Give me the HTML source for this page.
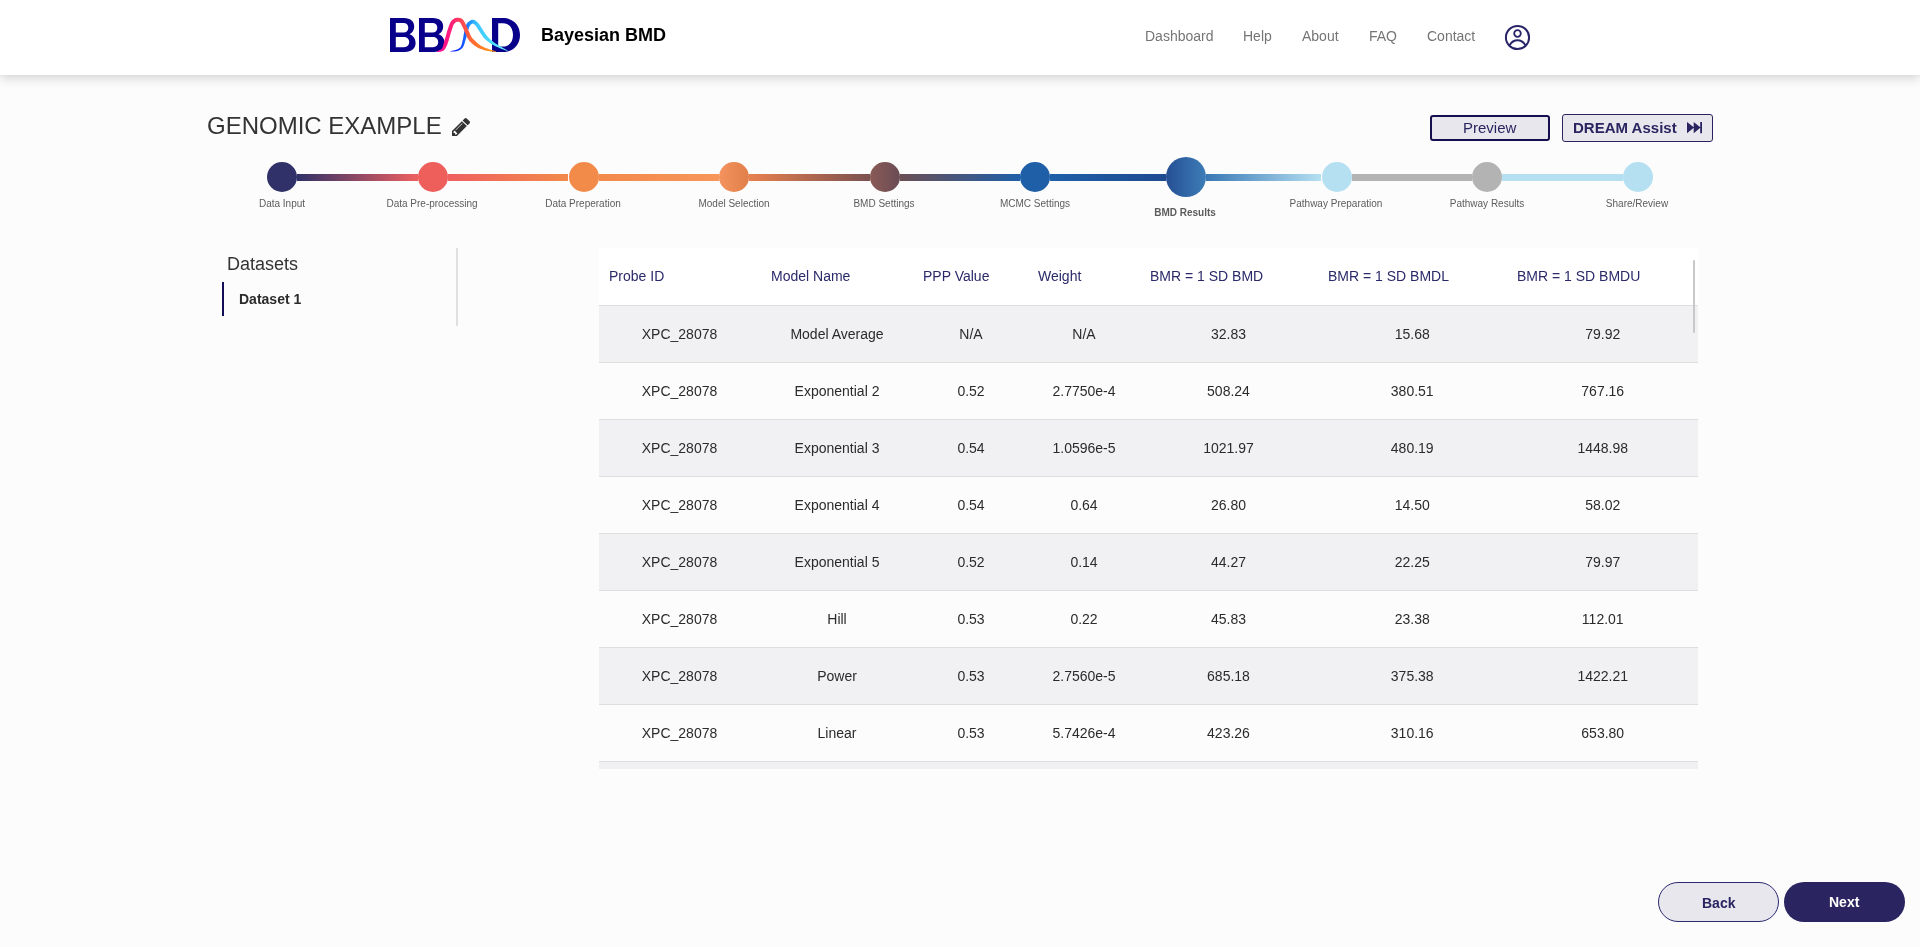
<!DOCTYPE html>
<html><head><meta charset="utf-8">
<style>
*{box-sizing:border-box;margin:0;padding:0}
html,body{width:1920px;height:947px;overflow:hidden;background:#fcfcfc;font-family:"Liberation Sans",sans-serif}
.abs{position:absolute}
.g{display:inline-block;will-change:transform}
#hdr{position:absolute;left:0;top:0;width:1920px;height:75px;background:#fff;box-shadow:0 3px 10px rgba(0,0,0,0.17)}
.t{position:absolute;white-space:nowrap;line-height:1;will-change:transform}
.nav{font-size:14px;color:#757575;top:29px}
.lbl{font-size:10px;color:#5c5c5c;top:199px;width:150px;text-align:center}
.circ{position:absolute;width:30px;height:30px;border-radius:50%;top:162px}
.seg{position:absolute;height:7px;top:174px}
.btn{position:absolute;font-size:15px;color:#2a2560;background:#e8e7ed;text-align:center}
#tbl{position:absolute;left:599px;top:248px;width:1099px;height:521px;overflow:hidden;background:#fcfcfc}
.row{position:absolute;left:0;width:1099px;height:57px;border-bottom:1px solid #dedede}
.row.s{background:#f1f1f4}
.cell{will-change:transform;position:absolute;top:0;height:56px;line-height:56px;font-size:14px;color:#2b2b2b;text-align:center;white-space:nowrap}
.hcell{will-change:transform;position:absolute;top:0;height:57px;line-height:57px;font-size:14px;color:#2a2a6a;padding-left:10px;white-space:nowrap}
</style></head><body>
<div id="hdr">
  <svg class="abs" style="left:389px;top:17px" width="135" height="38" viewBox="389 17 135 38">
    <defs>
      <linearGradient id="gp" x1="437" y1="0" x2="496" y2="0" gradientUnits="userSpaceOnUse">
        <stop offset="0" stop-color="#ff0898"/><stop offset="0.25" stop-color="#ff2078"/><stop offset="0.38" stop-color="#ff3c5c"/><stop offset="0.55" stop-color="#ff6238"/><stop offset="1" stop-color="#ffa010"/>
      </linearGradient>
      <linearGradient id="gb" x1="451" y1="0" x2="508" y2="0" gradientUnits="userSpaceOnUse">
        <stop offset="0" stop-color="#1010ff"/><stop offset="0.2" stop-color="#1050ff"/><stop offset="0.33" stop-color="#2090ff"/><stop offset="0.45" stop-color="#3cc4ff"/><stop offset="0.7" stop-color="#48dcff"/><stop offset="1" stop-color="#70f0ff"/>
      </linearGradient>
    </defs>
    <g fill="#08008a" fill-rule="evenodd">
      <path transform="translate(390,18)" d="M0,0 H14 C20.5,0 24.2,3.5 24.2,8.5 C24.2,12 22.3,14.8 19.5,16.3 C23.3,17.6 25.6,21 25.6,25 C25.6,30.5 21.5,34 15,34 H0 Z M5.8,4.9 H13.5 C16.5,4.9 18.3,6.8 18.3,9.7 C18.3,12.6 16.5,14.5 13.5,14.5 H5.8 Z M5.8,19 H14 C17.2,19 19.2,21.2 19.2,24.1 C19.2,27.1 17.2,29.2 14,29.2 H5.8 Z"/>
      <path transform="translate(419,18)" d="M0,0 H14 C20.5,0 24.2,3.5 24.2,8.5 C24.2,12 22.3,14.8 19.5,16.3 C23.3,17.6 25.6,21 25.6,25 C25.6,30.5 21.5,34 15,34 H0 Z M5.8,4.9 H13.5 C16.5,4.9 18.3,6.8 18.3,9.7 C18.3,12.6 16.5,14.5 13.5,14.5 H5.8 Z M5.8,19 H14 C17.2,19 19.2,21.2 19.2,24.1 C19.2,27.1 17.2,29.2 14,29.2 H5.8 Z"/>
      <path transform="translate(492,18)" d="M0,0 H11 C21,0 28,7 28,17 C28,27 21,34 11,34 H0 Z M6.2,5.2 H11 C17.5,5.2 21,10.5 21,17 C21,23.5 17.5,28.6 11,28.6 H6.2 Z"/>
    </g>
    <path id="cb" fill="url(#gb)" d="M450.5,51.4 L451.3,51.4 L452.2,51.4 L453.1,51.4 L454.0,51.4 L454.9,51.4 L455.7,51.3 L456.6,51.2 L457.4,51.0 L458.2,50.7 L458.9,50.4 L459.6,50.1 L460.3,49.7 L460.9,49.3 L461.6,48.8 L462.2,48.1 L462.8,47.4 L463.3,46.6 L463.7,45.7 L464.1,44.7 L464.5,43.7 L464.8,42.6 L465.1,41.6 L465.4,40.6 L465.7,39.6 L466.0,38.7 L466.3,37.7 L466.6,36.7 L466.8,35.7 L467.0,34.8 L467.3,33.9 L467.5,33.0 L467.8,32.1 L468.0,31.2 L468.3,30.3 L468.6,29.3 L468.8,28.4 L469.1,27.6 L469.3,26.9 L469.6,26.3 L469.9,25.8 L470.2,25.3 L470.6,24.9 L471.0,24.5 L471.5,24.1 L471.9,23.9 L472.3,23.7 L472.6,23.5 L472.8,23.5 L472.9,23.5 L473.0,23.5 L473.2,23.6 L473.5,23.7 L473.8,24.0 L474.2,24.3 L474.6,24.6 L475.0,25.0 L475.3,25.3 L475.7,25.8 L476.1,26.3 L476.5,26.9 L476.9,27.5 L477.3,28.1 L477.7,28.8 L478.1,29.4 L478.5,30.0 L478.9,30.5 L479.2,31.1 L479.6,31.7 L480.0,32.2 L480.3,32.8 L480.7,33.4 L481.1,34.0 L481.5,34.6 L481.9,35.1 L482.3,35.7 L482.7,36.4 L483.1,37.0 L483.6,37.6 L484.1,38.2 L484.6,38.8 L485.2,39.3 L485.7,39.8 L486.3,40.3 L486.9,40.8 L487.5,41.3 L488.1,41.7 L488.7,42.1 L489.3,42.6 L489.9,43.0 L490.6,43.4 L491.3,43.9 L491.9,44.3 L492.6,44.7 L493.3,45.1 L494.0,45.5 L494.6,45.8 L495.3,46.2 L495.9,46.5 L496.6,46.8 L497.2,47.0 L497.8,47.3 L498.5,47.6 L499.2,47.9 L500.0,48.2 L500.8,48.5 L501.6,48.9 L502.6,49.2 L503.5,49.6 L504.5,50.0 L505.4,50.3 L506.4,50.7 L507.4,50.9 L507.5,50.6 L506.7,50.0 L505.8,49.5 L504.9,48.9 L504.1,48.4 L503.2,47.9 L502.3,47.4 L501.5,47.0 L500.8,46.5 L500.0,46.1 L499.4,45.8 L498.7,45.4 L498.2,45.1 L497.6,44.8 L497.0,44.4 L496.5,44.1 L495.9,43.7 L495.3,43.3 L494.7,42.9 L494.1,42.4 L493.5,42.0 L492.9,41.5 L492.3,41.1 L491.7,40.6 L491.2,40.1 L490.7,39.7 L490.1,39.2 L489.6,38.7 L489.1,38.3 L488.6,37.8 L488.2,37.3 L487.7,36.8 L487.3,36.3 L486.9,35.8 L486.5,35.3 L486.1,34.8 L485.7,34.3 L485.4,33.7 L485.0,33.1 L484.6,32.5 L484.2,31.9 L483.8,31.4 L483.4,30.8 L483.1,30.2 L482.7,29.7 L482.4,29.1 L482.0,28.5 L481.6,27.9 L481.2,27.3 L480.8,26.7 L480.4,26.1 L480.0,25.5 L479.5,24.8 L479.1,24.1 L478.6,23.5 L478.1,22.9 L477.6,22.3 L477.1,21.9 L476.6,21.4 L476.0,21.0 L475.4,20.6 L474.8,20.2 L474.0,20.0 L473.2,19.8 L472.3,19.8 L471.5,20.0 L470.7,20.3 L470.0,20.7 L469.3,21.2 L468.6,21.7 L467.9,22.3 L467.3,23.0 L466.8,23.8 L466.3,24.6 L465.9,25.5 L465.6,26.4 L465.3,27.4 L465.0,28.4 L464.8,29.3 L464.6,30.3 L464.4,31.2 L464.1,32.2 L464.0,33.1 L463.8,34.1 L463.6,35.1 L463.5,36.1 L463.3,37.0 L463.2,37.9 L463.0,38.9 L462.7,39.9 L462.5,40.9 L462.3,42.0 L462.1,43.0 L461.8,43.9 L461.6,44.8 L461.3,45.6 L461.0,46.3 L460.6,46.9 L460.2,47.4 L459.7,47.8 L459.3,48.2 L458.7,48.6 L458.2,48.9 L457.5,49.3 L456.9,49.6 L456.2,49.8 L455.5,50.0 L454.7,50.2 L453.9,50.4 L453.0,50.5 L452.1,50.7 L451.3,50.9 L450.4,51.1 Z"/>
    <path id="cp" fill="url(#gp)" d="M437.0,51.8 L437.6,51.9 L438.2,51.9 L438.9,51.9 L439.5,51.8 L440.1,51.8 L440.7,51.7 L441.4,51.5 L441.9,51.3 L442.4,51.1 L442.9,50.9 L443.3,50.7 L443.7,50.4 L444.2,50.0 L444.6,49.6 L445.0,49.0 L445.4,48.4 L445.8,47.7 L446.2,46.8 L446.7,45.9 L447.1,44.9 L447.5,43.9 L447.9,42.8 L448.2,41.8 L448.6,40.7 L448.9,39.7 L449.2,38.6 L449.5,37.5 L449.8,36.5 L450.1,35.4 L450.4,34.3 L450.7,33.3 L451.1,32.3 L451.4,31.2 L451.7,30.2 L452.0,29.1 L452.4,28.1 L452.7,27.2 L453.0,26.3 L453.3,25.5 L453.6,24.8 L453.9,24.3 L454.2,23.9 L454.5,23.5 L454.8,23.2 L455.0,22.9 L455.3,22.7 L455.6,22.4 L455.9,22.2 L456.1,22.1 L456.3,22.0 L456.6,21.9 L456.8,21.8 L457.1,21.8 L457.3,21.7 L457.6,21.7 L458.0,21.8 L458.3,21.8 L458.6,21.8 L458.9,21.9 L459.2,21.9 L459.4,22.0 L459.6,22.1 L459.8,22.2 L459.9,22.4 L460.2,22.6 L460.4,23.0 L460.7,23.5 L461.0,24.0 L461.4,24.6 L461.7,25.3 L462.0,26.0 L462.4,26.6 L462.7,27.3 L463.0,28.0 L463.3,28.7 L463.7,29.5 L464.0,30.3 L464.3,31.1 L464.7,31.9 L465.0,32.7 L465.4,33.5 L465.7,34.3 L466.1,35.1 L466.5,35.9 L466.9,36.8 L467.3,37.6 L467.7,38.4 L468.2,39.1 L468.6,39.8 L469.1,40.4 L469.5,41.0 L470.0,41.5 L470.5,42.0 L471.0,42.5 L471.5,43.0 L472.0,43.5 L472.5,44.0 L473.1,44.6 L473.8,45.1 L474.5,45.6 L475.2,46.1 L475.9,46.6 L476.7,47.1 L477.5,47.5 L478.3,47.9 L479.1,48.3 L480.0,48.7 L480.9,49.0 L481.7,49.3 L482.6,49.6 L483.5,49.9 L484.3,50.2 L485.2,50.4 L486.0,50.6 L486.9,50.8 L487.7,50.9 L488.6,51.1 L489.4,51.2 L490.1,51.3 L490.9,51.4 L491.6,51.5 L492.2,51.6 L492.9,51.7 L493.5,51.8 L494.1,51.8 L494.7,51.8 L495.3,51.9 L495.9,51.9 L496.0,51.5 L495.4,51.2 L494.8,51.0 L494.3,50.8 L493.7,50.6 L493.1,50.5 L492.5,50.3 L491.9,50.1 L491.2,49.9 L490.5,49.6 L489.8,49.4 L489.0,49.2 L488.3,48.9 L487.5,48.6 L486.7,48.4 L485.9,48.1 L485.2,47.7 L484.4,47.4 L483.6,47.0 L482.9,46.7 L482.1,46.3 L481.3,45.9 L480.6,45.4 L479.9,45.0 L479.2,44.6 L478.6,44.1 L478.0,43.7 L477.5,43.2 L476.9,42.7 L476.3,42.1 L475.8,41.6 L475.3,41.1 L474.7,40.6 L474.2,40.1 L473.8,39.7 L473.3,39.3 L473.0,38.9 L472.6,38.4 L472.2,38.0 L471.9,37.5 L471.5,37.0 L471.2,36.4 L470.8,35.7 L470.5,35.0 L470.1,34.3 L469.8,33.5 L469.4,32.6 L469.0,31.8 L468.7,31.0 L468.3,30.3 L468.0,29.5 L467.7,28.7 L467.3,27.9 L467.0,27.1 L466.7,26.4 L466.3,25.6 L465.9,24.9 L465.6,24.2 L465.3,23.5 L464.9,22.8 L464.6,22.1 L464.2,21.4 L463.7,20.8 L463.3,20.1 L462.8,19.5 L462.2,19.0 L461.6,18.6 L460.9,18.3 L460.3,18.1 L459.7,17.9 L459.2,17.8 L458.6,17.8 L458.2,17.8 L457.6,17.7 L457.1,17.8 L456.5,17.8 L456.0,17.9 L455.4,18.1 L454.8,18.3 L454.2,18.6 L453.7,18.9 L453.2,19.2 L452.7,19.6 L452.2,20.0 L451.8,20.5 L451.3,21.0 L450.9,21.6 L450.5,22.3 L450.1,23.1 L449.7,23.9 L449.3,24.8 L448.9,25.8 L448.6,26.9 L448.2,27.9 L447.9,29.0 L447.6,30.0 L447.2,31.1 L446.9,32.1 L446.6,33.2 L446.3,34.3 L446.0,35.4 L445.7,36.5 L445.4,37.5 L445.1,38.6 L444.7,39.6 L444.4,40.6 L444.1,41.6 L443.9,42.7 L443.6,43.8 L443.4,44.7 L443.2,45.7 L442.9,46.4 L442.7,47.1 L442.5,47.6 L442.3,48.0 L442.2,48.3 L442.0,48.5 L441.8,48.7 L441.6,48.9 L441.3,49.1 L441.0,49.4 L440.6,49.6 L440.2,49.8 L439.7,50.1 L439.2,50.3 L438.6,50.5 L438.0,50.7 L437.4,50.9 L436.9,51.3 Z"/>
  </svg>
  <div class="t" style="left:541px;top:26px;font-size:18px;font-weight:bold;color:#000">Bayesian BMD</div>
  <div class="t nav" style="left:1145px">Dashboard</div>
  <div class="t nav" style="left:1243px">Help</div>
  <div class="t nav" style="left:1302px">About</div>
  <div class="t nav" style="left:1369px">FAQ</div>
  <div class="t nav" style="left:1427px">Contact</div>
  <svg class="abs" style="left:1504px;top:24px" width="27" height="27" viewBox="0 0 27 27">
    <circle cx="13.5" cy="13.5" r="11.6" fill="none" stroke="#272468" stroke-width="2"/>
    <circle cx="13.5" cy="9.5" r="3.3" fill="none" stroke="#272468" stroke-width="1.8"/>
    <path d="M5.6,21.3 C7.5,18 10.3,16.3 13.5,16.3 C16.7,16.3 19.5,18 21.4,21.3" fill="none" stroke="#272468" stroke-width="1.9"/>
  </svg>
</div>

<div class="t" style="left:207px;top:114px;font-size:24px;color:#333">GENOMIC EXAMPLE</div>
<svg class="abs" style="left:452px;top:118px" width="18" height="18" viewBox="128 149 1515 1515"><path fill="#333" d="M491 1536l91-91-235-235-91 91v107h128v128h107zm523-928q0-22-22-22-10 0-17 7l-542 542q-7 7-7 17 0 22 22 22 10 0 17-7l542-542q7-7 7-17zm-54-192l416 416-832 832h-416v-416zm683 96q0 53-37 90l-166 166-416-416 166-165q36-38 90-38 53 0 91 38l235 234q37 39 37 91z"/></svg>

<div class="btn" style="left:1430px;top:115px;width:120px;height:26px;border:2px solid #150f4f;border-radius:3px;line-height:22px"><span class="g">Preview</span></div>
<div class="btn" style="left:1562px;top:114px;width:151px;height:28px;border:1px solid #2a2560;border-radius:3px;line-height:26px;font-weight:bold;text-align:left;padding-left:10px"><span class="g">DREAM Assist</span>
  <svg class="abs" style="left:124px;top:6.6px" width="16" height="12" viewBox="0 0 16 12"><path d="M0,0 L7.2,5.6 L7.2,11.2 L0,11.2 Z M0,0 L7.2,5.6 L0,11.2 Z" fill="none"/><path d="M0,0 L7.1,5.6 L0,11.2 Z M6.7,0 L13.6,5.6 L6.7,11.2 Z M13.2,0 H15 V11.2 H13.2 Z" fill="#2a2560"/></svg>
</div>

<!-- stepper -->
<div id="stepper">
  <div class="seg" style="left:297.3px;width:120.6px;background:linear-gradient(90deg,#2f3168,#ef6060)"></div>
  <div class="seg" style="left:447.9px;width:120.6px;background:linear-gradient(90deg,#ef6060,#f28a4a)"></div>
  <div class="seg" style="left:598.5px;width:120.6px;background:linear-gradient(90deg,#f28a4a,#f8955a)"></div>
  <div class="seg" style="left:749.1px;width:120.6px;background:linear-gradient(90deg,#e8804f,#7a5050)"></div>
  <div class="seg" style="left:899.7px;width:120.6px;background:linear-gradient(90deg,#6b4f55,#1f5fa8)"></div>
  <div class="seg" style="left:1050.3px;width:115.6px;background:linear-gradient(90deg,#1f5fa8,#1f4a90)"></div>
  <div class="seg" style="left:1205.9px;width:115.6px;background:linear-gradient(90deg,#3a78b5,#b5e0f2)"></div>
  <div class="seg" style="left:1351.5px;width:120.6px;background:#b3b3b3"></div>
  <div class="seg" style="left:1502.1px;width:120.6px;background:#b5e0f2"></div>
  <div class="circ" style="left:267.3px;background:#2f3168"></div>
  <div class="circ" style="left:417.9px;background:#ee5f5b"></div>
  <div class="circ" style="left:568.5px;background:#f28a4a"></div>
  <div class="circ" style="left:719.1px;background:linear-gradient(90deg,#f4935e,#e07f4a)"></div>
  <div class="circ" style="left:869.7px;background:linear-gradient(90deg,#8a5a55,#6a4c55)"></div>
  <div class="circ" style="left:1020.3px;background:#1f5fa8"></div>
  <div class="circ" style="left:1165.9px;top:157px;width:40px;height:40px;background:linear-gradient(90deg,#264f93,#3d7db7)"></div>
  <div class="circ" style="left:1321.5px;background:#b5e0f2"></div>
  <div class="circ" style="left:1472.1px;background:#b3b3b3"></div>
  <div class="circ" style="left:1622.7px;background:#b5e0f2"></div>
  <div class="t lbl" style="left:206.8px">Data Input</div>
  <div class="t lbl" style="left:357.4px">Data Pre-processing</div>
  <div class="t lbl" style="left:508.0px">Data Preperation</div>
  <div class="t lbl" style="left:658.6px">Model Selection</div>
  <div class="t lbl" style="left:809.2px">BMD Settings</div>
  <div class="t lbl" style="left:959.8px">MCMC Settings</div>
  <div class="t lbl" style="left:1110.4px;top:208px;font-weight:bold">BMD Results</div>
  <div class="t lbl" style="left:1261.0px">Pathway Preparation</div>
  <div class="t lbl" style="left:1411.6px">Pathway Results</div>
  <div class="t lbl" style="left:1562.2px">Share/Review</div>
</div>

<!-- sidebar -->
<div class="t" style="left:227px;top:255px;font-size:18px;color:#333">Datasets</div>
<div class="abs" style="left:222px;top:282px;width:2px;height:34px;background:#110e55"></div>
<div class="t" style="left:239px;top:292px;font-size:14px;font-weight:bold;color:#2b2b2b">Dataset 1</div>
<div class="abs" style="left:456px;top:248px;width:2px;height:78px;background:#e0e0e0"></div>

<div id="tbl">
<div class="row" style="top:0;background:#fff;height:58px">
<div class="hcell" style="left:0px;width:161px">Probe ID</div>
<div class="hcell" style="left:161.5px;width:152px">Model Name</div>
<div class="hcell" style="left:313.7px;width:116px">PPP Value</div>
<div class="hcell" style="left:429px;width:112px">Weight</div>
<div class="hcell" style="left:541px;width:177px">BMR = 1 SD BMD</div>
<div class="hcell" style="left:719px;width:188.5px">BMR = 1 SD BMDL</div>
<div class="hcell" style="left:907.5px;width:191.5px">BMR = 1 SD BMDU</div>
</div>
<div class="row s" style="top:58px">
<div class="cell" style="left:0px;width:161px">XPC_28078</div>
<div class="cell" style="left:161.5px;width:152px">Model Average</div>
<div class="cell" style="left:313.7px;width:116px">N/A</div>
<div class="cell" style="left:429px;width:112px">N/A</div>
<div class="cell" style="left:541px;width:177px">32.83</div>
<div class="cell" style="left:719px;width:188.5px">15.68</div>
<div class="cell" style="left:907.5px;width:191.5px">79.92</div>
</div>
<div class="row" style="top:115px">
<div class="cell" style="left:0px;width:161px">XPC_28078</div>
<div class="cell" style="left:161.5px;width:152px">Exponential 2</div>
<div class="cell" style="left:313.7px;width:116px">0.52</div>
<div class="cell" style="left:429px;width:112px">2.7750e-4</div>
<div class="cell" style="left:541px;width:177px">508.24</div>
<div class="cell" style="left:719px;width:188.5px">380.51</div>
<div class="cell" style="left:907.5px;width:191.5px">767.16</div>
</div>
<div class="row s" style="top:172px">
<div class="cell" style="left:0px;width:161px">XPC_28078</div>
<div class="cell" style="left:161.5px;width:152px">Exponential 3</div>
<div class="cell" style="left:313.7px;width:116px">0.54</div>
<div class="cell" style="left:429px;width:112px">1.0596e-5</div>
<div class="cell" style="left:541px;width:177px">1021.97</div>
<div class="cell" style="left:719px;width:188.5px">480.19</div>
<div class="cell" style="left:907.5px;width:191.5px">1448.98</div>
</div>
<div class="row" style="top:229px">
<div class="cell" style="left:0px;width:161px">XPC_28078</div>
<div class="cell" style="left:161.5px;width:152px">Exponential 4</div>
<div class="cell" style="left:313.7px;width:116px">0.54</div>
<div class="cell" style="left:429px;width:112px">0.64</div>
<div class="cell" style="left:541px;width:177px">26.80</div>
<div class="cell" style="left:719px;width:188.5px">14.50</div>
<div class="cell" style="left:907.5px;width:191.5px">58.02</div>
</div>
<div class="row s" style="top:286px">
<div class="cell" style="left:0px;width:161px">XPC_28078</div>
<div class="cell" style="left:161.5px;width:152px">Exponential 5</div>
<div class="cell" style="left:313.7px;width:116px">0.52</div>
<div class="cell" style="left:429px;width:112px">0.14</div>
<div class="cell" style="left:541px;width:177px">44.27</div>
<div class="cell" style="left:719px;width:188.5px">22.25</div>
<div class="cell" style="left:907.5px;width:191.5px">79.97</div>
</div>
<div class="row" style="top:343px">
<div class="cell" style="left:0px;width:161px">XPC_28078</div>
<div class="cell" style="left:161.5px;width:152px">Hill</div>
<div class="cell" style="left:313.7px;width:116px">0.53</div>
<div class="cell" style="left:429px;width:112px">0.22</div>
<div class="cell" style="left:541px;width:177px">45.83</div>
<div class="cell" style="left:719px;width:188.5px">23.38</div>
<div class="cell" style="left:907.5px;width:191.5px">112.01</div>
</div>
<div class="row s" style="top:400px">
<div class="cell" style="left:0px;width:161px">XPC_28078</div>
<div class="cell" style="left:161.5px;width:152px">Power</div>
<div class="cell" style="left:313.7px;width:116px">0.53</div>
<div class="cell" style="left:429px;width:112px">2.7560e-5</div>
<div class="cell" style="left:541px;width:177px">685.18</div>
<div class="cell" style="left:719px;width:188.5px">375.38</div>
<div class="cell" style="left:907.5px;width:191.5px">1422.21</div>
</div>
<div class="row" style="top:457px">
<div class="cell" style="left:0px;width:161px">XPC_28078</div>
<div class="cell" style="left:161.5px;width:152px">Linear</div>
<div class="cell" style="left:313.7px;width:116px">0.53</div>
<div class="cell" style="left:429px;width:112px">5.7426e-4</div>
<div class="cell" style="left:541px;width:177px">423.26</div>
<div class="cell" style="left:719px;width:188.5px">310.16</div>
<div class="cell" style="left:907.5px;width:191.5px">653.80</div>
</div>
<div class="row s" style="top:514px">
<div class="cell" style="left:0px;width:161px">XPC_28078</div>
<div class="cell" style="left:161.5px;width:152px">Polynomial 2</div>
<div class="cell" style="left:313.7px;width:116px">0.53</div>
<div class="cell" style="left:429px;width:112px">0.00</div>
<div class="cell" style="left:541px;width:177px">0.00</div>
<div class="cell" style="left:719px;width:188.5px">0.00</div>
<div class="cell" style="left:907.5px;width:191.5px">0.00</div>
</div>
<div class="abs" style="left:1094px;top:12px;width:2px;height:73px;background:#c8c8c8;border-radius:1px"></div>
</div>

<div class="btn" style="left:1658px;top:882px;width:121px;height:40px;border:1px solid #2b2a70;border-radius:20px;line-height:40px;font-size:14px;font-weight:bold"><span class="g">Back</span></div>
<div class="btn" style="left:1784px;top:882px;width:121px;height:40px;border-radius:20px;line-height:40px;font-size:14px;font-weight:bold;background:#2a2561;color:#fff"><span class="g">Next</span></div>
</body></html>
